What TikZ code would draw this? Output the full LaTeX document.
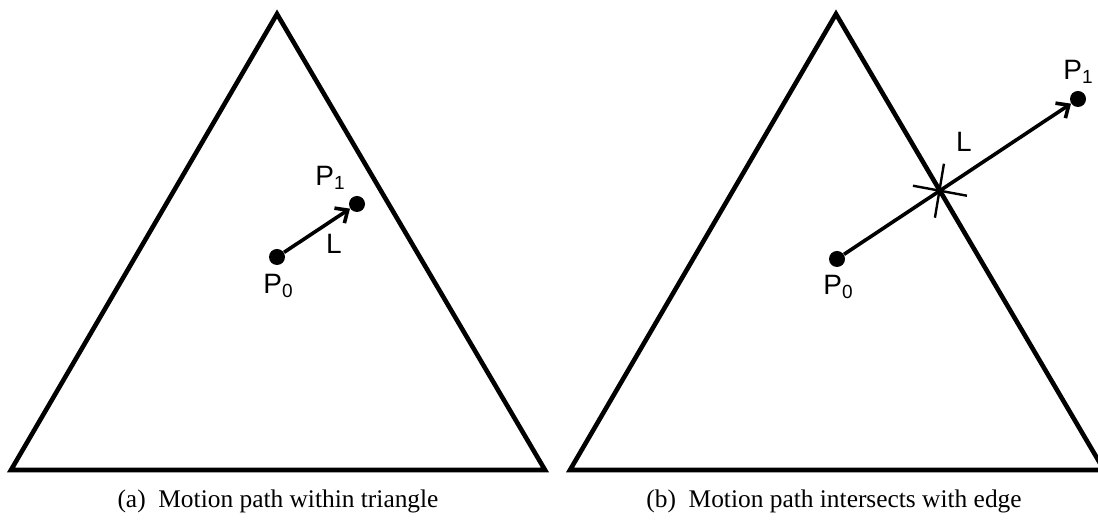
\documentclass[tikz,border=0pt]{standalone}
\usepackage{fontspec}
\setmainfont{Liberation Serif}
\newfontfamily\lblfont{Liberation Sans}
\usetikzlibrary{positioning,arrows.meta}

\newcommand{\idx}[1]{\raisebox{-0.25ex}{\fontsize{9.5}{9.5}\selectfont #1}}

\tikzset{
  >={Straight Barb[length=5pt, width=9pt]},
  tri/.style={line width=2.3pt, line join=miter},
  dot/.style={circle, fill, inner sep=0pt, minimum size=8pt},
  mpath/.style={line width=1.8pt},
  lbl/.style={font=\lblfont\fontsize{14}{14}\selectfont},
  capt/.style={font=\fontsize{12.7}{12.7}\selectfont, anchor=base}
}

\begin{document}
\begin{tikzpicture}[x=0.5pt, y=-0.5pt]
    \useasboundingbox (0,0) rectangle (1098,522);
    \clip (0,0) rectangle (1098,522);

    % (a) path stays inside
    \coordinate (ta) at (277,14);
    \coordinate (la) at (11,470);
    \coordinate (ra) at (545,470);
    \draw[tri] (la) -- (ta) -- (ra) -- cycle;

    \node[dot] (p0a) at (277,257) {};
    \node[dot] (p1a) at (357,204) {};
    \draw[mpath, ->] (p0a) -- (p1a);
    \node[lbl] at (278,286) {P\idx{0}};
    \node[lbl] at (330,178) {P\idx{1}};
    \node[lbl] at (334,244) {L};

    % (b) path crosses the edge
    \coordinate (tb) at (836,14);
    \coordinate (lb) at (570,470);
    \coordinate (rb) at (1104,470);
    \draw[tri] (lb) -- (tb) -- (rb) -- cycle;

    \node[dot] (p0b) at (837,259) {};
    \node[dot] (p1b) at (1078,99) {};
    \draw[mpath, ->] (p0b) -- (p1b);
    \coordinate (cx) at (intersection of p0b--p1b and tb--rb);
    \draw[line width=1.2pt, shift={(cx)}] (-27,-5) -- (27,5) (4,-27) -- (-5,27);
    \node[lbl] at (838,287) {P\idx{0}};
    \node[lbl] at (1078,72) {P\idx{1}};
    \node[lbl] at (964,142) {L};

    % captions
    \node[capt] at (278,508) {(a)\ \ Motion path within triangle};
    \node[capt] at (834,508) {(b)\ \ Motion path intersects with edge};
\end{tikzpicture}
\end{document}
